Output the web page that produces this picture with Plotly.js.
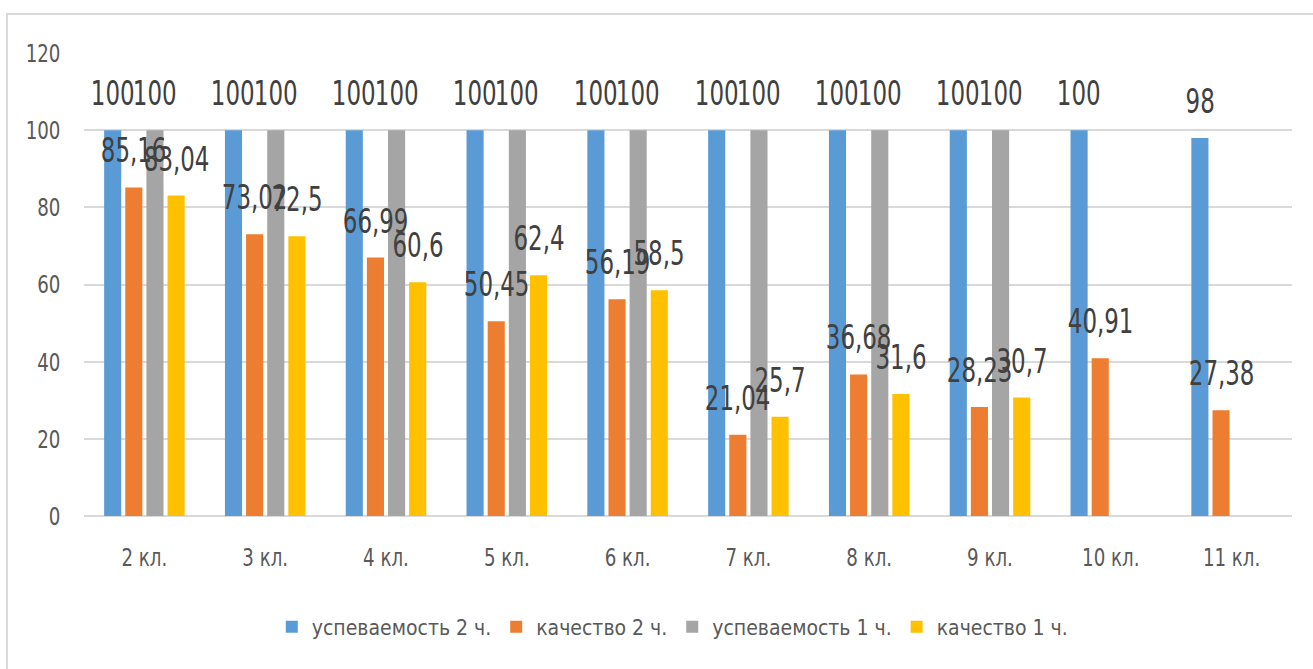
<!DOCTYPE html>
<html>
<head>
<meta charset="utf-8">
<script src="https://cdn.plot.ly/plotly-3.0.1.min.js"></script>
<style>
  html, body { margin: 0; padding: 0; background: #ffffff; overflow: hidden; }
  #wrap { position: relative; width: 1313px; height: 669px; }
  #chart { position: absolute; left: 0; top: 0; width: 1313px; height: 669px; }
  #frame { position: absolute; left: 6px; top: 13px; width: 1400px; height: 800px;
           border: 2px solid #d9d9d9; pointer-events: none; }
</style>
</head>
<body>
<div id="wrap">
  <div id="chart"></div>
  <div id="frame"></div>
</div>
<script>
// ---- data ----
const categories = ["2 кл.", "3 кл.", "4 кл.", "5 кл.", "6 кл.", "7 кл.", "8 кл.", "9 кл.", "10 кл.", "11 кл."];
const seriesNames = ["успеваемость 2 ч.", "качество 2 ч.", "успеваемость 1 ч.", "качество 1 ч."];
const uspev2 = [100, 100, 100, 100, 100, 100, 100, 100, 100, 98];
const kach2  = [85.16, 73.02, 66.99, 50.45, 56.19, 21.04, 36.68, 28.23, 40.91, 27.38];
const uspev1 = [100, 100, 100, 100, 100, 100, 100, 100, null, null];
const kach1  = [83.04, 72.5, 60.6, 62.4, 58.5, 25.7, 31.6, 30.7, null, null];
const colors = ["#5B9BD5", "#ED7D31", "#A5A5A5", "#FFC000"];

const seriesValues = [uspev2, kach2, uspev1, kach1];
const FONT = '"Liberation Sans Narrow", "DejaVu Sans Condensed", "Liberation Sans", sans-serif';
const bargap = 0.30;
const bargroupgap = 0.19;

const traces = seriesValues.map((vals, i) => ({
  type: "bar",
  name: seriesNames[i],
  x: categories,
  y: vals,
  marker: { color: colors[i] },
  hoverinfo: "skip"
}));

// data labels placed above each bar, using the bar-group geometry
const nS = seriesValues.length;
const slot = (1 - bargap) / nS;
const annotations = [];
seriesValues.forEach((vals, s) => {
  const off = (s - (nS - 1) / 2) * slot;
  vals.forEach((v, c) => {
    if (v === null || v === undefined) return;
    annotations.push({
      xref: "x", yref: "y",
      x: c + off, y: v,
      text: String(v).replace(".", ","),
      showarrow: false,
      xanchor: "center", yanchor: "bottom",
      yshift: 18,
      font: { family: FONT, size: 30, color: "#404040" }
    });
  });
});

const layout = {
  width: 1313, height: 669,
  margin: { l: 84, r: 21, t: 53, b: 153 },
  paper_bgcolor: "rgba(0,0,0,0)",
  plot_bgcolor: "rgba(0,0,0,0)",
  barmode: "group",
  bargap: bargap,
  bargroupgap: bargroupgap,
  font: { family: FONT, color: "#595959" },
  showlegend: true,
  legend: {
    orientation: "h",
    x: 0.487, xanchor: "center",
    y: -0.24, yanchor: "middle",
    font: { family: FONT, size: 21, color: "#595959" },
    traceorder: "normal"
  },
  xaxis: {
    type: "category",
    tickfont: { family: FONT, size: 23, color: "#595959" },
    ticks: "outside", ticklen: 21, tickcolor: "rgba(0,0,0,0)",
    showline: false, showgrid: false, zeroline: false,
    fixedrange: true
  },
  yaxis: {
    range: [0, 120],
    dtick: 20,
    tickfont: { family: FONT, size: 23, color: "#595959" },
    ticks: "outside", ticklen: 18, tickcolor: "rgba(0,0,0,0)",
    showgrid: true, gridcolor: "#d9d9d9", gridwidth: 2,
    zeroline: true, zerolinecolor: "#d9d9d9", zerolinewidth: 2,
    showline: false,
    fixedrange: true
  },
  annotations: annotations
};

// narrow the glyphs (the reference uses a tall, condensed face)
function squeeze(selector, sx, sy, anchor) {
  document.querySelectorAll(selector).forEach(el => {
    let b;
    try { b = el.getBBox(); } catch (e) { return; }
    if (!b || !b.width) return;
    const ax = anchor === "right" ? b.x + b.width : anchor === "left" ? b.x : b.x + b.width / 2;
    const ay = b.y + b.height / 2;
    const prev = el.getAttribute("transform") || "";
    el.setAttribute("transform",
      prev + " translate(" + ax + "," + ay + ") scale(" + sx + "," + sy + ") translate(" + (-ax) + "," + (-ay) + ")");
  });
}

Plotly.newPlot("chart", traces, layout, { staticPlot: true, displayModeBar: false }).then(() => {
  squeeze("#chart .annotation-text", 0.85, 1.15, "center");
  squeeze("#chart .xtick text", 0.88, 1.1, "center");
  squeeze("#chart .ytick text", 0.88, 1.1, "right");
});
</script>
</body>
</html>
